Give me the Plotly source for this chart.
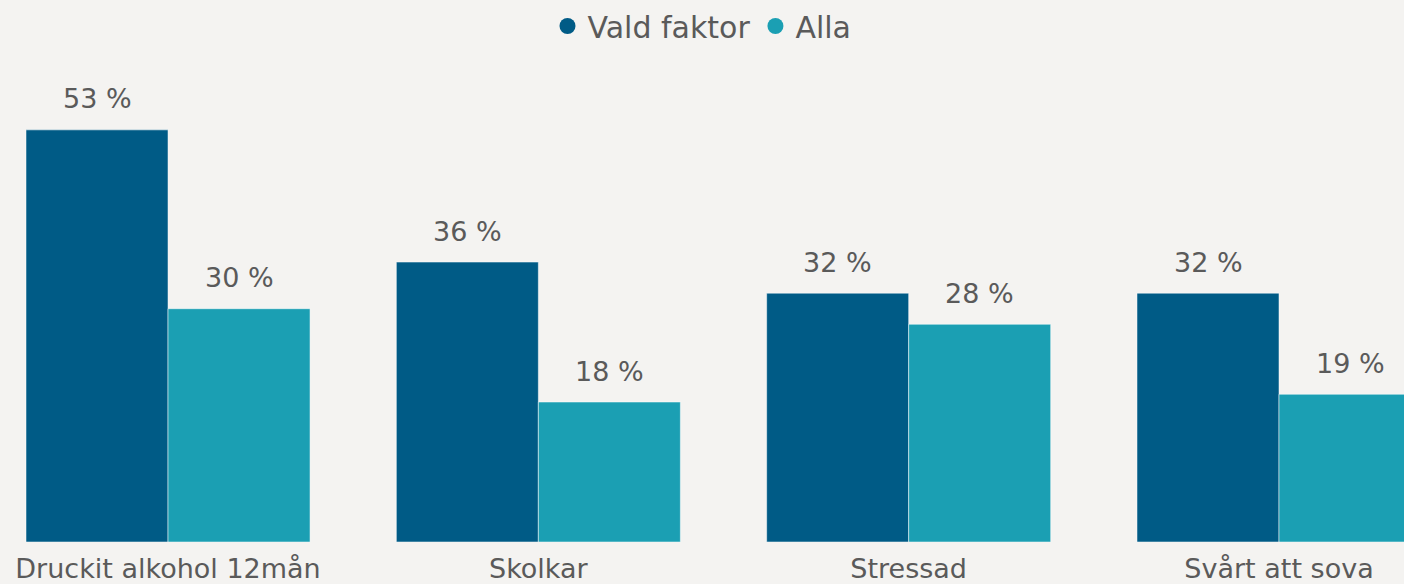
import plotly.graph_objects as go

categories = ["Druckit alkohol 12mån", "Skolkar", "Stressad", "Svårt att sova"]
vald_faktor = [53, 36, 32, 32]
alla = [30, 18, 28, 19]
series_names = ["Vald faktor", "Alla"]
colors = ["#005b86", "#1b9fb3"]

FONT = "DejaVu Sans"
TXT = "#5a5a5a"

fig = go.Figure()
for name, vals, col in zip(series_names, [vald_faktor, alla], colors):
    fig.add_trace(go.Bar(
        x=categories, y=vals, name=name,
        marker=dict(color=col, line=dict(color="rgba(255,255,255,0.5)", width=1)),
        showlegend=False, hoverinfo="skip",
    ))
for name, col in zip(series_names, colors):
    fig.add_trace(go.Scatter(
        x=[None], y=[None], mode="markers", name=name,
        marker=dict(color=col, size=22, symbol="circle"),
    ))

# value labels above bars
for vals, shift in zip([vald_faktor, alla], [-71, 71]):
    for c, v in zip(categories, vals):
        fig.add_annotation(x=c, y=v, text=f"{v} %", showarrow=False,
                           xshift=shift, yshift=31,
                           font=dict(family=FONT, size=27, color=TXT))

fig.update_layout(
    width=1404, height=584,
    paper_bgcolor="#f4f3f1", plot_bgcolor="#f4f3f1",
    margin=dict(l=0, r=0, t=0, b=42),
    barmode="group", bargap=0.233, bargroupgap=0,
    font=dict(family=FONT, size=27, color=TXT),
    legend=dict(orientation="h", x=0.5, xanchor="center", y=1.0, yanchor="top",
                font=dict(family=FONT, size=30, color=TXT),
                itemwidth=30, tracegroupgap=0, bgcolor="rgba(0,0,0,0)"),
    xaxis=dict(range=[-0.4537, 3.3375], showgrid=False, zeroline=False,
               showline=False, ticks="", ticklabelstandoff=8, automargin=False,
               tickfont=dict(family=FONT, size=27, color=TXT)),
    yaxis=dict(range=[0, 69.7], visible=False, automargin=False),
)
fig.write_html("out.html", config={"displayModeBar": False},
               post_script="document.body.style.margin='0';")
